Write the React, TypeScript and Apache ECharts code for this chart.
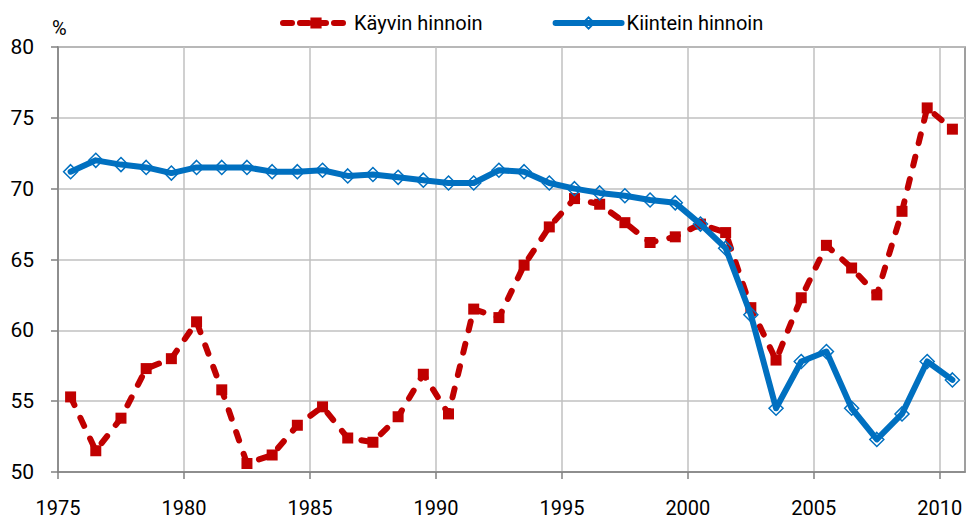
import React, { useEffect, useRef } from "react";
import * as echarts from "echarts";

const years = [
  1975, 1976, 1977, 1978, 1979, 1980, 1981, 1982, 1983, 1984, 1985, 1986,
  1987, 1988, 1989, 1990, 1991, 1992, 1993, 1994, 1995, 1996, 1997, 1998,
  1999, 2000, 2001, 2002, 2003, 2004, 2005, 2006, 2007, 2008, 2009, 2010,
];
const kayvinHinnoin = [
  55.3, 51.5, 53.8, 57.3, 58.0, 60.6, 55.8, 50.6, 51.2, 53.3, 54.6, 52.4,
  52.1, 53.9, 56.9, 54.1, 61.5, 60.9, 64.6, 67.3, 69.3, 68.9, 67.6, 66.2,
  66.6, 67.5, 66.9, 61.6, 57.9, 62.3, 66.0, 64.4, 62.5, 68.4, 75.7, 74.2,
];
const kiinteinHinnoin = [
  71.2, 72.0, 71.7, 71.5, 71.1, 71.5, 71.5, 71.5, 71.2, 71.2, 71.3, 70.9,
  71.0, 70.8, 70.6, 70.4, 70.4, 71.3, 71.2, 70.4, 70.0, 69.7, 69.5, 69.2,
  69.0, 67.5, 65.8, 61.1, 54.5, 57.8, 58.5, 54.5, 52.3, 54.1, 57.8, 56.5,
];
const xTicks = [1975, 1980, 1985, 1990, 1995, 2000, 2005, 2010];
const seriesNames = ["Käyvin hinnoin", "Kiintein hinnoin"];

const FONT = "Roboto, sans-serif";
const RED = "#C00000";
const BLUE = "#0070C0";

export default function App() {
  const ref = useRef<HTMLDivElement>(null);
  useEffect(() => {
    if (!ref.current) return;
    const chart = echarts.init(ref.current, null, { renderer: "svg" });
    const toPts = (vals: number[]) => years.map((y, i) => [y + 0.5, vals[i]]);
    chart.setOption({
      animation: false,
      backgroundColor: "#ffffff",
      textStyle: { fontFamily: FONT },
      legend: {
        top: 8,
        left: 275,
        itemWidth: 66,
        itemHeight: 14,
        itemGap: 70,
        textStyle: { fontSize: 20, color: "#000", fontFamily: FONT },
        data: [
          { name: seriesNames[0], lineStyle: { width: 6, type: [9, 8], cap: "round" } },
          { name: seriesNames[1], lineStyle: { width: 6, cap: "round" } },
        ],
      },
      grid: {
        left: 58,
        right: 15,
        top: 47,
        bottom: 51,
        show: true,
        borderColor: "#808080",
        borderWidth: 1.5,
        backgroundColor: "transparent",
      },
      xAxis: {
        type: "value",
        min: 1975,
        max: 2011,
        interval: 5,
        axisLine: { show: true, onZero: false, lineStyle: { color: "#808080", width: 1.5 } },
        axisTick: { show: true, length: 7, inside: false, customValues: xTicks, lineStyle: { color: "#808080", width: 1.5 } },
        axisLabel: {
          margin: 26,
          fontSize: 20,
          color: "#000",
          fontFamily: FONT,
          showMaxLabel: false,
          formatter: (v: number) => (v % 5 === 0 ? String(v) : ""),
        },
        splitLine: { show: true, lineStyle: { color: "#c0c0c0", width: 1.5 } },
      },
      yAxis: {
        type: "value",
        min: 50,
        max: 80,
        interval: 5,
        name: "%",
        nameLocation: "end",
        nameGap: 9,
        nameTextStyle: { fontSize: 20, color: "#000", fontFamily: FONT, align: "left", padding: [0, 0, 0, -6] },
        axisLine: { show: true, lineStyle: { color: "#808080", width: 1.5 } },
        axisTick: { show: true, length: 7, inside: false, lineStyle: { color: "#808080", width: 1.5 } },
        axisLabel: { margin: 24, fontSize: 21, color: "#000", fontFamily: FONT },
        splitLine: { show: true, lineStyle: { color: "#c0c0c0", width: 1.5 } },
      },
      series: [
        {
          name: seriesNames[0],
          type: "line",
          data: toPts(kayvinHinnoin),
          symbol: "rect",
          symbolSize: 11,
          itemStyle: { color: RED },
          lineStyle: { color: RED, width: 6, type: [9, 14], cap: "round", join: "round" },
          z: 2,
        },
        {
          name: seriesNames[1],
          type: "line",
          data: toPts(kiinteinHinnoin),
          symbol: "diamond",
          symbolSize: 14,
          itemStyle: { color: "rgba(255,255,255,0)", borderColor: BLUE, borderWidth: 1.5 },
          lineStyle: { color: BLUE, width: 6, cap: "round", join: "round" },
          z: 3,
        },
      ],
    });
    return () => chart.dispose();
  }, []);
  return (
    <div
      ref={ref}
      style={{ position: "fixed", left: 0, top: 0, width: 980, height: 523 }}
    />
  );
}
